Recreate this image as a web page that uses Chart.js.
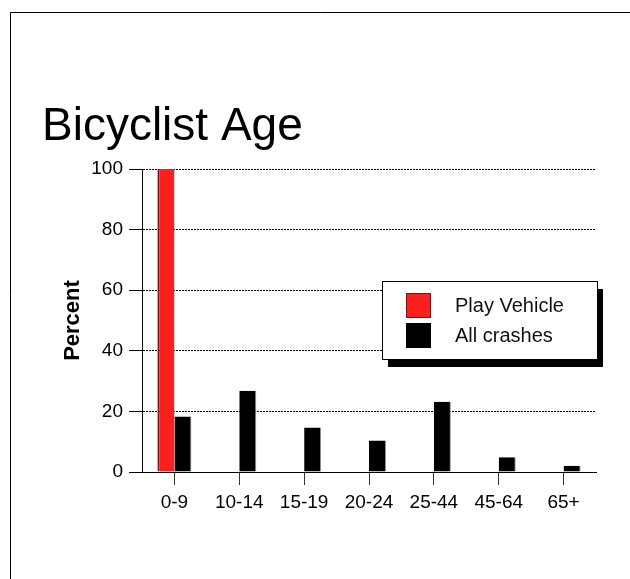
<!DOCTYPE html>
<html>
<head>
<meta charset="utf-8">
<title>Bicyclist Age</title>
<script src="https://cdn.jsdelivr.net/npm/chart.js@4.4.1/dist/chart.umd.min.js"></script>
<style>
    html, body { margin: 0; padding: 0; background: #fff; }
    #wrap { width: 630px; height: 579px; position: relative; }
</style>
</head>
<body>
<div id="wrap"><canvas id="grafico" width="630" height="579"></canvas></div>
<script>
// Datos del gráfico
const chartTitle = 'Bicyclist Age';
const yTitle = 'Percent';
const categorias = ['0-9', '10-14', '15-19', '20-24', '25-44', '45-64', '65+'];
const seriesNames = ['Play Vehicle', 'All crashes'];
const playVehicle = [100, 0, 0, 0, 0, 0, 0];
const allCrashes = [18.3, 26.8, 14.7, 10.4, 23.2, 4.9, 2.1];
const yTicks = [0, 20, 40, 60, 80, 100];

const fuente = '"Liberation Sans", Arial, sans-serif';

// Marco, título y leyenda con sombra
const decoracion = {
    id: 'decoracion',
    beforeDraw(chart) {
        const c = chart.ctx;
        c.save();
        c.fillStyle = '#fff';
        c.fillRect(0, 0, chart.width, chart.height);
        c.strokeStyle = '#000';
        c.lineWidth = 1;
        c.beginPath();
        c.moveTo(10.5, 579);
        c.lineTo(10.5, 12.5);
        c.lineTo(630, 12.5);
        c.stroke();
        c.fillStyle = '#000';
        c.font = '46px ' + fuente;
        c.textBaseline = 'alphabetic';
        c.fillText(chartTitle, 42, 140);
        c.restore();
    },
    afterDraw(chart) {
        const c = chart.ctx;
        const bx = 382, by = 281, bw = 215, bh = 78;
        c.save();
        c.fillStyle = '#000';
        c.fillRect(bx + 6, by + 8, bw, bh);
        c.fillStyle = '#fff';
        c.fillRect(bx, by, bw, bh);
        c.strokeStyle = '#000';
        c.lineWidth = 1;
        c.strokeRect(bx + 0.5, by + 0.5, bw, bh);
        chart.data.datasets.forEach(function(ds, i) {
            const y = by + 12 + i * 30;
            c.fillStyle = ds.backgroundColor;
            c.fillRect(bx + 24, y, 25, 25);
            c.strokeStyle = i === 0 ? '#7a1010' : '#000';
            c.strokeRect(bx + 24.5, y + 0.5, 24, 24);
            c.fillStyle = '#111';
            c.font = '20px ' + fuente;
            c.textBaseline = 'middle';
            c.fillText(ds.label, bx + 73, y + 13);
        });
        c.restore();
    }
};

const ctx = document.getElementById('grafico');
new Chart(ctx, {
    type: 'bar',
    data: {
        labels: categorias,
        datasets: [{
            label: seriesNames[0],
            data: playVehicle,
            backgroundColor: '#fa2020',
            borderColor: '#7a1010',
            borderWidth: { left: 2, right: 0, top: 0, bottom: 0 },
            borderSkipped: false,
            categoryPercentage: 0.525,
            barPercentage: 1
        }, {
            label: seriesNames[1],
            data: allCrashes,
            backgroundColor: '#000',
            borderColor: '#999',
            borderWidth: { left: 0, right: 1, top: 0, bottom: 0 },
            borderSkipped: false,
            categoryPercentage: 0.525,
            barPercentage: 1
        }]
    },
    options: {
        responsive: false,
        animation: false,
        layout: {
            padding: { top: 169, left: 12, right: 34, bottom: 57 }
        },
        scales: {
            x: {
                offset: true,
                afterFit: function(s) { s.height = 50; },
                grid: {
                    offset: false,
                    drawOnChartArea: false,
                    color: '#000',
                    tickColor: '#333',
                    tickLength: 13
                },
                border: { display: true, color: '#000', width: 1 },
                ticks: {
                    color: '#000',
                    padding: 6,
                    font: { family: fuente, size: 19 }
                }
            },
            y: {
                min: 0,
                max: 100,
                afterFit: function(s) { s.width = 130; },
                afterBuildTicks: function(s) {
                    s.ticks = yTicks.map(function(v) { return { value: v }; });
                },
                grid: {
                    color: '#000',
                    tickColor: '#000',
                    tickLength: 13,
                    tickBorderDash: []
                },
                border: { display: true, color: '#000', width: 1, dash: [2, 1] },
                ticks: {
                    color: '#000',
                    padding: 6,
                    font: { family: fuente, size: 19 }
                },
                title: {
                    display: true,
                    text: yTitle,
                    color: '#000',
                    padding: { top: 48, bottom: 0 },
                    font: { family: fuente, size: 22, weight: 'bold' }
                }
            }
        },
        plugins: {
            legend: { display: false },
            tooltip: { enabled: false }
        }
    },
    plugins: [decoracion]
});
</script>
</body>
</html>
